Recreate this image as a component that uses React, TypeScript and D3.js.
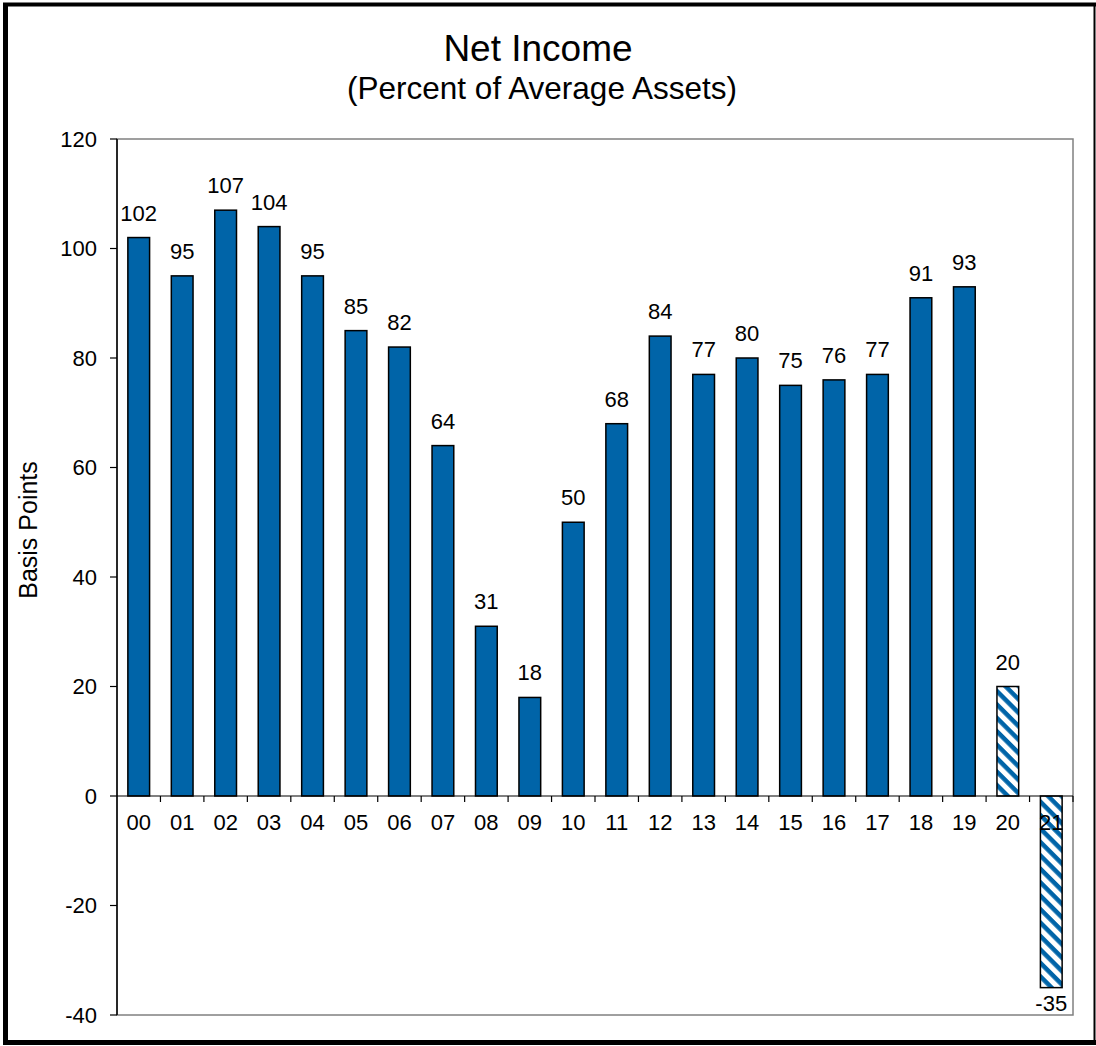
import React from "react";
import * as d3 from "d3";

const categories = ["00","01","02","03","04","05","06","07","08","09","10","11","12","13","14","15","16","17","18","19","20","21"];
const values = [102,95,107,104,95,85,82,64,31,18,50,68,84,77,80,75,76,77,91,93,20,-35];
const hatched = [false,false,false,false,false,false,false,false,false,false,false,false,false,false,false,false,false,false,false,false,true,true];
const yTicks = [-40,-20,0,20,40,60,80,100,120];

const W = 1096, H = 1046;
const left = 117, right = 1073, top = 139, bottom = 1015;
const BLUE = "#0064A8";
const FONT = "Liberation Sans, Arial, sans-serif";

export default function App() {
  const x = d3.scaleBand<string>().domain(categories).range([left, right]).paddingInner(0.5).paddingOuter(0.25);
  const xStep = x.step();
  const y = d3.scaleLinear().domain([-40, 120]).range([bottom, top]);
  const y0 = y(0);

  return (
    <svg width={W} height={H} style={{ position: "absolute", left: 0, top: 0, background: "#fff" }} fontFamily={FONT}>
      <defs>
        <pattern id="hatch" patternUnits="userSpaceOnUse" width={9.5} height={9.5} patternTransform="rotate(45)">
          <rect width={9.5} height={9.5} fill="#fff" />
          <rect x={0} y={0} width={9.5} height={4.5} fill={BLUE} />
        </pattern>
      </defs>
      {/* outer frame */}
      <rect x={0} y={0} width={W} height={H} fill="#fff" />
      <line x1={5.5} y1={4} x2={5.5} y2={1044} stroke="#000" strokeWidth={5} />
      <line x1={3} y1={4.5} x2={1096} y2={4.5} stroke="#000" strokeWidth={4} />
      <line x1={3} y1={1042.5} x2={1096} y2={1042.5} stroke="#000" strokeWidth={5} />
      <line x1={1094.5} y1={3} x2={1094.5} y2={1044} stroke="#000" strokeWidth={2} />

      {/* title */}
      <text x={538} y={61} textAnchor="middle" fontSize={37}>Net Income</text>
      <text x={542} y={99} textAnchor="middle" fontSize={31.5}>(Percent of Average Assets)</text>

      {/* plot border */}
      <rect x={left} y={top} width={right - left} height={bottom - top} fill="none" stroke="#808080" strokeWidth={1.5} />
      <line x1={left} y1={top} x2={left} y2={bottom} stroke="#000" strokeWidth={1.5} />

      {/* y ticks */}
      {yTicks.map((t) => (
        <g key={t}>
          <line x1={left - 7} x2={left} y1={y(t)} y2={y(t)} stroke="#000" strokeWidth={1.2} />
          <text x={97} y={y(t)} dy="0.35em" textAnchor="end" fontSize={22}>{t}</text>
        </g>
      ))}
      <text transform={`translate(37,${(top + bottom) / 2 - 47}) rotate(-90)`} textAnchor="middle" fontSize={25}>Basis Points</text>

      {/* bars */}
      {categories.map((c, i) => {
        const v = values[i];
        const bx = x(c)!;
        const by = v >= 0 ? y(v) : y0;
        const bh = Math.abs(y(v) - y0);
        return (
          <rect key={c} x={bx} y={by} width={x.bandwidth()} height={bh}
            fill={hatched[i] ? "url(#hatch)" : BLUE} stroke="#000" strokeWidth={1.5} />
        );
      })}

      {/* x axis */}
      <line x1={left} x2={right} y1={y0} y2={y0} stroke="#000" strokeWidth={1.2} />
      {categories.map((c, i) => (
        <line key={"t" + c} x1={left + xStep * (i + 1)} x2={left + xStep * (i + 1)} y1={y0} y2={y0 + 6} stroke="#000" strokeWidth={1.2} />
      ))}
      {categories.map((c) => (
        <text key={"l" + c} x={x(c)! + x.bandwidth() / 2} y={830} textAnchor="middle" fontSize={22}>{c}</text>
      ))}

      {/* value labels */}
      {categories.map((c, i) => {
        const v = values[i];
        const cx = x(c)! + x.bandwidth() / 2;
        return (
          <text key={"v" + c} x={cx} y={v >= 0 ? y(v) - 17 : y(v) + 23} textAnchor="middle" fontSize={22}>{v}</text>
        );
      })}
    </svg>
  );
}
